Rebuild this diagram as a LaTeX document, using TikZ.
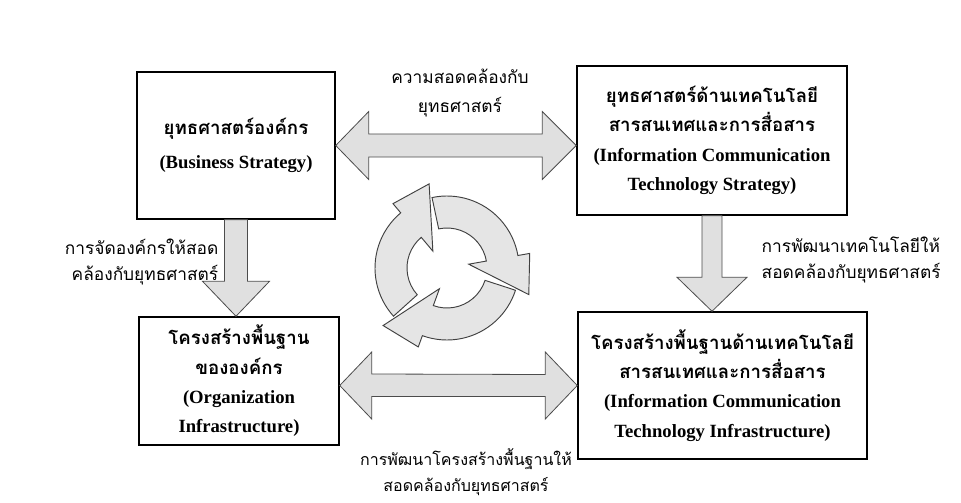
\documentclass[tikz,border=0pt]{standalone}
\usepackage{fontspec}
\setmainfont{Liberation Serif}
\newfontfamily\thaifont[Script=Thai]{Loma}
\usetikzlibrary{calc}
\begin{document}
\begin{tikzpicture}[x=0.75pt,y=0.75pt,
    box/.style={draw, line width=1.1pt, align=center, inner sep=0pt,
      font=\bfseries\fontsize{14}{22}\selectfont},
    fatarrow/.style={draw=black!70, line width=0.6pt, fill=black!12, line join=miter},
    cyclearrow/.style={draw=black!75, line width=0.7pt, fill=black!10, line join=miter},
    note/.style={font=\thaifont\fontsize{13}{19}\selectfont}]
  \useasboundingbox (0,0) rectangle (961,-503);
  \fill[white] (0,0) rectangle (961,-503);
  % the four boxes
  \node[box, minimum width=148.5pt, minimum height=110.25pt] (bus) at (236,-145.5)
    {{\thaifont ยุทธศาสตร์องค์กร}\\[4pt](Business Strategy)};
  \node[box, minimum width=202.5pt, minimum height=111.75pt] (ict) at (712,-140.5)
    {{\thaifont ยุทธศาสตร์ด้านเทคโนโลยี}\\{\thaifont สารสนเทศและการสื่อสาร}\\(Information Communication\\Technology Strategy)};
  \node[box, minimum width=150pt, minimum height=96pt] (org) at (239,-381)
    {{\thaifont โครงสร้างพื้นฐาน}\\{\thaifont ขององค์กร}\\(Organization\\Infrastructure)};
  \node[box, minimum width=216.75pt, minimum height=110.25pt] (ictinf) at (722.5,-385.5)
    {{\thaifont โครงสร้างพื้นฐานด้านเทคโนโลยี}\\{\thaifont สารสนเทศและการสื่อสาร}\\(Information Communication\\Technology Infrastructure)};
  % labels
  \node[note, align=center] (ltop) at (460,-93) {ความสอดคล้องกับ\\[3pt]ยุทธศาสตร์};
  \node[note, align=right, anchor=east] (lleft) at (223,-262) {การจัดองค์กรให้สอด\\คล้องกับยุทธศาสตร์};
  \node[note, align=left, anchor=west] (lright) at (757,-260) {การพัฒนาเทคโนโลยีให้\\สอดคล้องกับยุทธศาสตร์};
  \node[note, align=center, font=\thaifont\fontsize{12}{19}\selectfont] (lbot) at (466,-472)
    {การพัฒนาโครงสร้างพื้นฐานให้\\สอดคล้องกับยุทธศาสตร์};
  % fat arrows
  \coordinate (tl) at (bus.east);
  \coordinate (tr) at (ict.west |- bus.east);
  \coordinate (bl) at (org.east |- ictinf.west);
  \coordinate (br) at (ictinf.west);
  \coordinate (lt) at (bus.south);
  \coordinate (lb) at (bus.south |- org.north);
  \coordinate (rt) at (ict.south);
  \coordinate (rb) at (ict.south |- ictinf.north);
  \draw[fatarrow] (tl) -- ++(33,34) -- ++(0,-22.5) -- ($(tr)+(-34,11.5)$) -- ++(0,22.5)
    -- (tr) -- ++(-34,-34) -- ++(0,22.5) -- ($(tl)+(33,-11.5)$) -- ++(0,-22.5) -- cycle;
  \draw[fatarrow] (bl) -- ++(32,33.5) -- ++(0,-22) -- ($(br)+(-32,11)$) -- ++(0,22.5)
    -- (br) -- ++(-32,-33.5) -- ++(0,22.5) -- ($(bl)+(32,-11)$) -- ++(0,-22.5) -- cycle;
  \draw[fatarrow] ($(lt)+(-11.5,0)$) -- ($(lb)+(-11.5,35)$) -- ++(-22,0) -- (lb)
    -- ++(33.5,35) -- ++(-22,0) -- ($(lt)+(11.5,0)$) -- cycle;
  \draw[fatarrow] ($(rt)+(-10,0)$) -- ($(rb)+(-10,34)$) -- ++(-25,0) -- (rb)
    -- ++(35,34) -- ++(-25,0) -- ($(rt)+(10,0)$) -- cycle;
  % cycle in the middle
  \begin{scope}[shift={(447,-268)}]
    \foreach \b in {130,10,250} {
      \draw[cyclearrow] (\b+92:54pt) arc[start angle=\b+92, end angle=\b, radius=54pt]
        -- (\b:63pt) -- (\b-28:64.5pt) -- (\b:16.5pt) -- (\b:30pt)
        arc[start angle=\b, end angle=\b+92, radius=30pt] -- cycle;
    }
  \end{scope}
\end{tikzpicture}
\end{document}
